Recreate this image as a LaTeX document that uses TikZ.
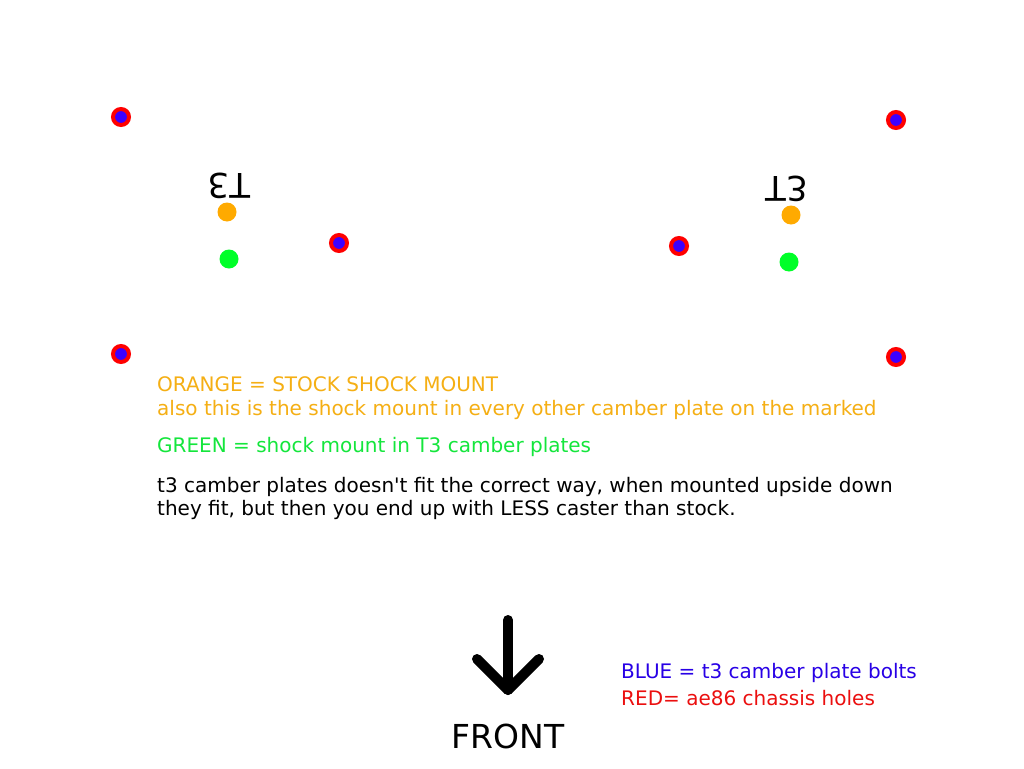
\documentclass[tikz,border=0pt]{standalone}
\usepackage{fontspec}
\setmainfont{DejaVu Sans}
\definecolor{dotred}{RGB}{255,0,0}
\definecolor{dotblue}{RGB}{60,0,255}
\definecolor{dotorange}{RGB}{255,170,0}
\definecolor{dotgreen}{RGB}{0,255,40}
\definecolor{txtorange}{RGB}{245,175,20}
\definecolor{txtgreen}{RGB}{20,230,60}
\definecolor{txtblue}{RGB}{40,0,230}
\definecolor{txtred}{RGB}{235,15,15}
\begin{document}
\begin{tikzpicture}[x=1pt,y=-1pt,
  hole/.style={circle,draw=dotred,fill=dotblue,line width=4pt,minimum size=16pt,inner sep=0pt},
  orangedot/.style={circle,fill=dotorange,minimum size=19pt,inner sep=0pt},
  greendot/.style={circle,fill=dotgreen,minimum size=19pt,inner sep=0pt},
  body/.style={anchor=base west,inner sep=0pt,font=\fontsize{20}{24}\selectfont,align=left},
  platelabel/.style={inner sep=0pt,font=\fontsize{34}{40}\selectfont}]
\useasboundingbox (0,0) rectangle (1024,768);
\fill[white] (0,0) rectangle (1024,768);
% left plate
\node[hole] (l1) at (121,117) {};
\node[hole] (l2) at (339,243) {};
\node[hole] (l3) at (121,354) {};
\node[orangedot] (lo) at (227,212) {};
\node[greendot] (lg) at (229,259) {};
\node[platelabel] (lt) at (229,186) {\rotatebox{180}{T3}};
% right plate
\node[hole] (r1) at (896,120) {};
\node[hole] (r2) at (679,246) {};
\node[hole] (r3) at (896,357) {};
\node[orangedot] (ro) at (791,215) {};
\node[greendot] (rg) at (789,262) {};
\node[platelabel] (rt) at (787,189) {\scalebox{1}[-1]{T3}};
% text
\node[body,text=txtorange] (t1) at (157,391) {ORANGE = STOCK SHOCK MOUNT};
\node[body,text=txtorange] (t2) at (157,415) {also this is the shock mount in every other camber plate on the marked};
\node[body,text=txtgreen] (t3) at (157,452) {GREEN = shock mount in T3 camber plates};
\node[body,text=black] (t4) at (157,492) {t3 camber plates doesn\textquotesingle t fit the correct way, when mounted upside down};
\node[body,text=black] (t5) at (157,515) {they fit, but then you end up with LESS caster than stock.};
\node[body,text=txtblue] (t6) at (621,678) {BLUE = t3 camber plate bolts};
\node[body,text=txtred] (t7) at (621,705) {RED= ae86 chassis holes};
% arrow
\coordinate (atop) at (508,620);
\coordinate (atip) at (508,690);
\coordinate (aleft) at (477,659);
\coordinate (aright) at (539,659);
\draw[line width=10pt,line cap=round,line join=round] (atop) -- (atip);
\draw[line width=10pt,line cap=round,line join=round] (aleft) -- (atip) -- (aright);
\node[anchor=base,inner sep=0pt,font=\fontsize{33}{40}\selectfont] (front) at (508,748) {FRONT};
\end{tikzpicture}
\end{document}
